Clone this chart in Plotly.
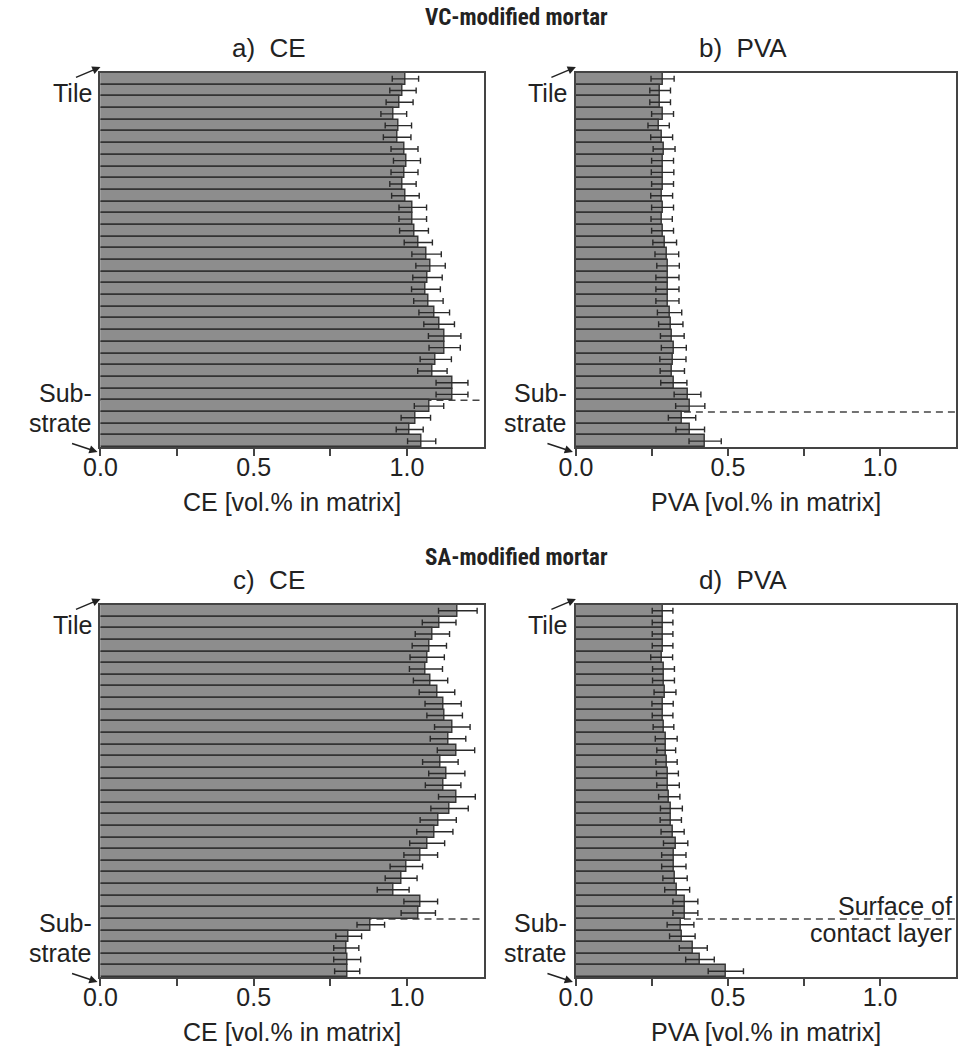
import plotly.graph_objects as go

# ---------------- data ----------------
layer_index = list(range(32))  # 0 = tile side (top), 31 = substrate side (bottom)

ce_vc = [0.995, 0.987, 0.976, 0.957, 0.972, 0.968, 0.992, 1.000, 0.992, 0.987, 0.995,
         1.019, 1.019, 1.023, 1.037, 1.064, 1.077, 1.067, 1.062, 1.070, 1.089, 1.105,
         1.123, 1.123, 1.094, 1.083, 1.147, 1.147, 1.072, 1.029, 1.009, 1.048]
ce_vc_err = [0.043, 0.043, 0.044, 0.042, 0.043, 0.045, 0.044, 0.044, 0.044, 0.043, 0.045,
             0.045, 0.045, 0.047, 0.046, 0.048, 0.048, 0.048, 0.047, 0.048, 0.050, 0.050,
             0.053, 0.051, 0.051, 0.048, 0.052, 0.052, 0.048, 0.048, 0.044, 0.046]

pva_vc = [0.285, 0.277, 0.277, 0.285, 0.272, 0.282, 0.290, 0.285, 0.285, 0.285, 0.282,
          0.285, 0.282, 0.285, 0.292, 0.299, 0.303, 0.301, 0.301, 0.301, 0.308, 0.312,
          0.317, 0.322, 0.319, 0.317, 0.322, 0.367, 0.376, 0.349, 0.376, 0.425]
pva_vc_err = [0.038, 0.034, 0.034, 0.036, 0.035, 0.036, 0.036, 0.036, 0.037, 0.036, 0.036,
              0.036, 0.035, 0.036, 0.039, 0.039, 0.037, 0.038, 0.038, 0.038, 0.040, 0.040,
              0.039, 0.041, 0.043, 0.040, 0.043, 0.044, 0.048, 0.045, 0.047, 0.053]

ce_sa = [1.166, 1.105, 1.083, 1.073, 1.066, 1.062, 1.077, 1.098, 1.118, 1.123, 1.148,
         1.134, 1.160, 1.109, 1.130, 1.118, 1.163, 1.139, 1.102, 1.091, 1.066, 1.045,
         0.998, 0.981, 0.955, 1.045, 1.037, 0.882, 0.810, 0.802, 0.805, 0.805]
ce_sa_err = [0.063, 0.055, 0.056, 0.056, 0.056, 0.054, 0.056, 0.058, 0.059, 0.058, 0.058,
             0.058, 0.061, 0.058, 0.059, 0.058, 0.060, 0.061, 0.059, 0.059, 0.057, 0.055,
             0.053, 0.052, 0.052, 0.055, 0.056, 0.045, 0.042, 0.041, 0.044, 0.041]

pva_sa = [0.285, 0.285, 0.285, 0.285, 0.282, 0.288, 0.288, 0.293, 0.285, 0.285, 0.288,
          0.297, 0.297, 0.298, 0.301, 0.303, 0.307, 0.314, 0.312, 0.318, 0.328, 0.322,
          0.322, 0.326, 0.333, 0.360, 0.360, 0.344, 0.350, 0.386, 0.408, 0.493]
pva_sa_err = [0.034, 0.034, 0.034, 0.034, 0.036, 0.036, 0.036, 0.036, 0.035, 0.034, 0.034,
              0.036, 0.031, 0.035, 0.036, 0.037, 0.035, 0.036, 0.035, 0.038, 0.040, 0.040,
              0.040, 0.040, 0.041, 0.041, 0.041, 0.044, 0.042, 0.046, 0.047, 0.058]

# position of the "surface of contact layer" (between layer indices)
contact_boundary = [27.5, 28.5, 26.5, 26.5]

panel_titles = ["a)  CE", "b)  PVA", "c)  CE", "d)  PVA"]
axis_titles = ["CE [vol.% in matrix]", "PVA [vol.% in matrix]",
               "CE [vol.% in matrix]", "PVA [vol.% in matrix]"]
group_titles = ["VC-modified mortar", "SA-modified mortar"]
tick_vals = [0, 0.25, 0.5, 0.75, 1.0]
tick_text = ["0.0", "", "0.5", "", "1.0"]

# ---------------- layout geometry (pixels) ----------------
W, H = 958, 1050
panels_px = [  # left, right, top, bottom
    (85, 475, 73, 447),
    (569, 956, 73, 447),
    (85, 475, 605, 977),
    (569, 956, 605, 977),
]
def px(x):
    return x / W
def py(y):
    return 1 - y / H

FONT = "Liberation Sans, Arial, Helvetica, sans-serif"
TXT = "#222222"
LINE = "#444444"

series = [(ce_vc, ce_vc_err), (pva_vc, pva_vc_err), (ce_sa, ce_sa_err), (pva_sa, pva_sa_err)]

fig = go.Figure()
layout = dict(
    width=W, height=H,
    margin=dict(l=0, r=0, t=0, b=0),
    paper_bgcolor="white", plot_bgcolor="white",
    showlegend=False, bargap=0,
    font=dict(family=FONT, size=25, color=TXT),
)
annotations = []
shapes = []

for i, ((vals, errs), (l, r, t, b)) in enumerate(zip(series, panels_px)):
    n = "" if i == 0 else str(i + 1)
    fig.add_trace(go.Bar(
        x=vals, y=layer_index, orientation="h",
        xaxis="x" + n, yaxis="y" + n,
        width=1,
        marker=dict(color="#8d8d8d", line=dict(color="#333333", width=1.4)),
        error_x=dict(type="data", array=errs, color="#2a2a2a", thickness=1.4, width=3),
    ))
    layout["xaxis" + n] = dict(
        domain=[px(l), px(r)], anchor="y" + n, range=[0, 1.25],
        tickvals=tick_vals, ticktext=tick_text, ticks="outside", ticklen=7,
        tickwidth=1.5, tickcolor=LINE, showgrid=False, zeroline=False,
        showline=True, mirror=True, linecolor=LINE, linewidth=1.5,
        tickfont=dict(size=25, color=TXT, family=FONT),
        ticklabelstandoff=-10,
    )
    layout["yaxis" + n] = dict(
        domain=[py(b), py(t)], anchor="x" + n, range=[31.5, -0.5],
        showticklabels=False, ticks="", showgrid=False, zeroline=False,
        showline=True, mirror=True, linecolor=LINE, linewidth=1.5,
    )
    # dashed line marking contact layer surface (drawn below bars)
    shapes.append(dict(
        type="line", xref="x" + n + " domain", yref="y" + n,
        x0=0, x1=1, y0=contact_boundary[i], y1=contact_boundary[i],
        line=dict(color=LINE, width=1.5, dash="7px,5px"), layer="below",
    ))
    # panel title
    annotations.append(dict(
        text=panel_titles[i], xref="paper", yref="paper",
        x=px((l + r) / 2 - 23), y=py(t - 25), xanchor="center", yanchor="middle",
        showarrow=False, font=dict(size=26, color=TXT, family=FONT),
    ))
    # axis title
    annotations.append(dict(
        text=axis_titles[i], xref="paper", yref="paper",
        x=px((l + r) / 2), y=py(b + 55), xanchor="center", yanchor="middle",
        showarrow=False, font=dict(size=25, color=TXT, family=FONT),
    ))
    # side labels
    for txt, yy in [("Tile", t + 20), ("Sub-", b - 54), ("strate", b - 24)]:
        annotations.append(dict(
            text=txt, xref="paper", yref="paper",
            x=px(l - 7), y=py(yy), xanchor="right", yanchor="middle",
            showarrow=False, font=dict(size=25, color=TXT, family=FONT),
        ))
    # arrows
    annotations.append(dict(
        text="", xref="paper", yref="paper", x=px(l), y=py(t - 6),
        ax=-26, ay=11, showarrow=True, arrowhead=2, arrowsize=1.1,
        arrowwidth=1.5, arrowcolor="#222222",
    ))
    annotations.append(dict(
        text="", xref="paper", yref="paper", x=px(l - 3), y=py(b + 5),
        ax=-27, ay=-9, showarrow=True, arrowhead=2, arrowsize=1.1,
        arrowwidth=1.5, arrowcolor="#222222",
    ))

# group titles
for txt, yy in zip(group_titles, [18, 557]):
    annotations.append(dict(
        text="<b>" + txt + "</b>", xref="paper", yref="paper",
        x=px(509), y=py(yy), xanchor="center", yanchor="middle",
        showarrow=False,
        font=dict(size=23, color=TXT,
                  family="Liberation Sans Narrow, Arial Narrow, Roboto Condensed, Liberation Sans, Arial"),
    ))

# contact layer label in panel d
for txt, yy in [("Surface of", 906), ("contact layer", 933)]:
    annotations.append(dict(
        text=txt, xref="paper", yref="paper",
        x=px(954), y=py(yy), xanchor="right", yanchor="middle",
        showarrow=False, font=dict(size=25, color=TXT, family=FONT),
    ))

layout["annotations"] = annotations
layout["shapes"] = shapes
fig.update_layout(**layout)
fig.write_html(
    "out.html",
    config={"displayModeBar": False},
    post_script="document.body.style.margin='0px';document.body.style.padding='0px';",
)
